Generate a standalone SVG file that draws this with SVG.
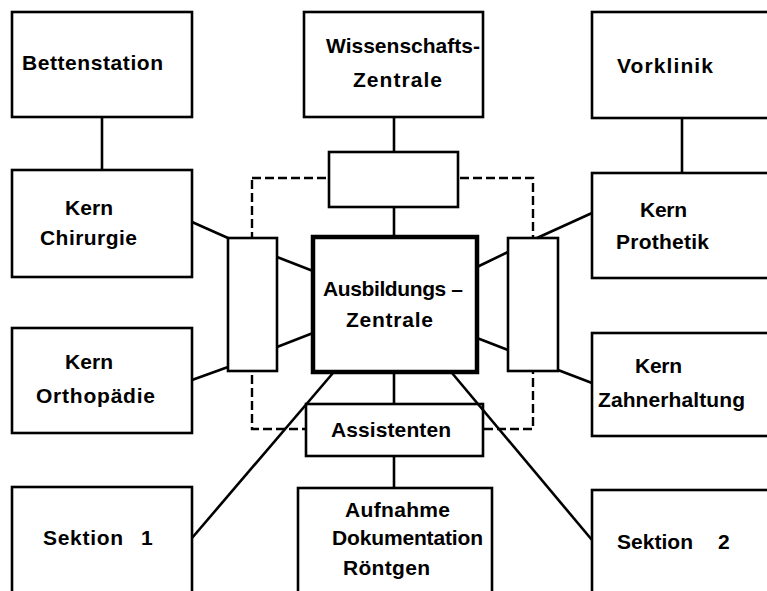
<svg xmlns="http://www.w3.org/2000/svg" width="767" height="591" viewBox="0 0 767 591">
<style>
.box{fill:#fff;stroke:#000;stroke-width:2.6}
.main{fill:#fff;stroke:#000;stroke-width:4.5}
.ln{stroke:#000;stroke-width:2.6;fill:none}
.dash{stroke:#000;stroke-width:2.4;fill:none;stroke-dasharray:9 4}
text{font-family:"Liberation Sans",Arial,sans-serif;font-weight:bold;font-size:21px;fill:#000}
</style>
<rect width="767" height="591" fill="#fff"/>
<g id="frame">
<rect class="dash" x="252" y="178" width="281" height="251"/>
</g>
<g id="n-betten"><rect class="box" x="12" y="12" width="180" height="105"/><text x="22" y="70" textLength="141" lengthAdjust="spacing">Bettenstation</text></g>
<g id="n-wiss"><rect class="box" x="304" y="12" width="179" height="105"/><text x="326" y="53" textLength="154" lengthAdjust="spacing">Wissenschafts-</text><text x="353" y="87" textLength="89" lengthAdjust="spacing">Zentrale</text></g>
<g id="n-vorklinik"><rect class="box" x="592" y="12" width="180" height="106"/><text x="617" y="73" textLength="96" lengthAdjust="spacing">Vorklinik</text></g>
<g id="n-top"><rect class="box" x="329" y="152" width="129" height="55"/></g>
<g id="n-chir"><rect class="box" x="12" y="170" width="180" height="107"/><text x="65" y="215" textLength="48" lengthAdjust="spacing">Kern</text><text x="40" y="245" textLength="97" lengthAdjust="spacing">Chirurgie</text></g>
<g id="n-orth"><rect class="box" x="12" y="328" width="180" height="105"/><text x="65" y="369" textLength="48" lengthAdjust="spacing">Kern</text><text x="36" y="403" textLength="119" lengthAdjust="spacing">Orthopädie</text></g>
<g id="n-left"><rect class="box" x="228" y="238" width="49" height="133"/></g>
<g id="n-center"><rect class="main" x="313" y="237" width="164" height="135"/><text x="323" y="296" textLength="140" lengthAdjust="spacing">Ausbildungs –</text><text x="346" y="327" textLength="87" lengthAdjust="spacing">Zentrale</text></g>
<g id="n-right"><rect class="box" x="508" y="238" width="50" height="133"/></g>
<g id="n-proth"><rect class="box" x="592" y="173" width="180" height="105"/><text x="640" y="217" textLength="47" lengthAdjust="spacing">Kern</text><text x="616" y="249" textLength="93" lengthAdjust="spacing">Prothetik</text></g>
<g id="n-zahn"><rect class="box" x="592" y="333" width="180" height="103"/><text x="635" y="373" textLength="47" lengthAdjust="spacing">Kern</text><text x="598" y="407" textLength="147" lengthAdjust="spacing">Zahnerhaltung</text></g>
<g id="n-assist"><rect class="box" x="306" y="404" width="177" height="52"/><text x="331" y="437" textLength="120" lengthAdjust="spacing">Assistenten</text></g>
<g id="n-sek1"><rect class="box" x="12" y="487" width="180" height="110"/><text y="545"><tspan x="43" textLength="80" lengthAdjust="spacing">Sektion</tspan> <tspan x="141">1</tspan></text></g>
<g id="n-aufn"><rect class="box" x="298" y="488" width="194" height="110"/><text x="345" y="517" textLength="105" lengthAdjust="spacing">Aufnahme</text><text x="332" y="545" textLength="151" lengthAdjust="spacing">Dokumentation</text><text x="343" y="575" textLength="87" lengthAdjust="spacing">Röntgen</text></g>
<g id="n-sek2"><rect class="box" x="592" y="490" width="180" height="110"/><text y="549"><tspan x="617" textLength="76" lengthAdjust="spacing">Sektion</tspan> <tspan x="718">2</tspan></text></g>
<g id="connectors">
<line class="ln" x1="102" y1="117" x2="102" y2="170"/>
<line class="ln" x1="394" y1="117" x2="394" y2="152"/>
<line class="ln" x1="394" y1="207" x2="394" y2="237"/>
<line class="ln" x1="682" y1="118" x2="682" y2="173"/>
<line class="ln" x1="192" y1="222" x2="228" y2="238"/>
<line class="ln" x1="192" y1="380" x2="228" y2="367"/>
<line class="ln" x1="277" y1="257" x2="313" y2="271"/>
<line class="ln" x1="277" y1="347" x2="313" y2="333"/>
<line class="ln" x1="477" y1="267" x2="508" y2="252"/>
<line class="ln" x1="477" y1="338" x2="508" y2="350"/>
<line class="ln" x1="537" y1="238" x2="592" y2="213"/>
<line class="ln" x1="558" y1="370" x2="592" y2="383"/>
<line class="ln" x1="394" y1="372" x2="394" y2="404"/>
<line class="ln" x1="394" y1="456" x2="394" y2="488"/>
<line class="ln" x1="333" y1="373" x2="192" y2="538"/>
<line class="ln" x1="452" y1="373" x2="592" y2="540"/>
</g>
</svg>
